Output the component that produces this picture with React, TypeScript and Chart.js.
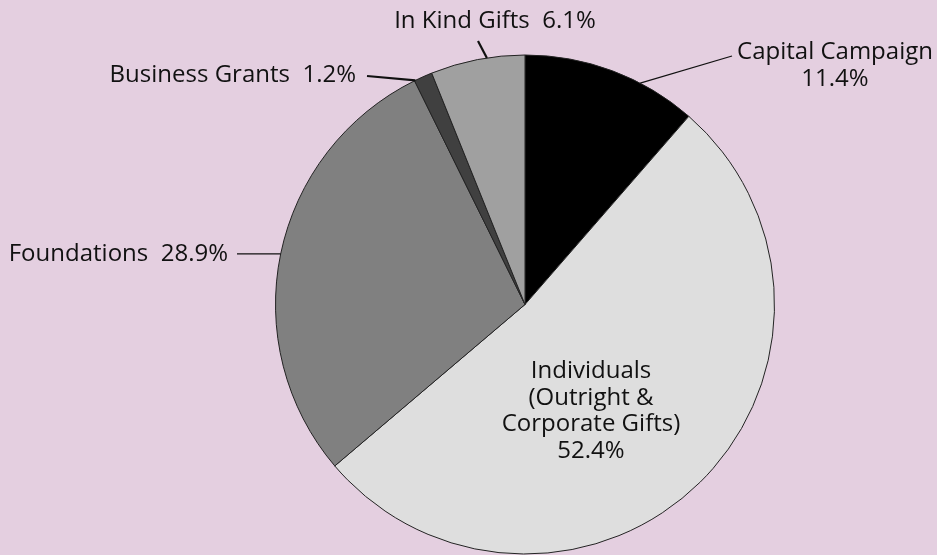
import React, { useEffect, useRef } from "react";
import { Chart, registerables } from "chart.js";

Chart.register(...registerables);

const categories = [
  "Capital Campaign",
  "Individuals (Outright & Corporate Gifts)",
  "Foundations",
  "Business Grants",
  "In Kind Gifts",
];
const values = [11.4, 52.4, 28.9, 1.2, 6.1];
const colors = ["#000000", "#dedede", "#808080", "#404040", "#a0a0a0"];
const valueLabels = ["11.4%", "52.4%", "28.9%", "1.2%", "6.1%"];

const FONT = "24px 'Open Sans', sans-serif";
const BG = "#e4cfe0";

const labelPlugin = {
  id: "pieLabels",
  afterDatasetsDraw(chart: any) {
    const ctx = chart.ctx as CanvasRenderingContext2D;
    const arcs = chart.getDatasetMeta(0).data;
    const pt = (i: number, frac: number, extra = 0) => {
      const a = arcs[i];
      const ang = a.startAngle + (a.endAngle - a.startAngle) * frac;
      const r = a.outerRadius + extra;
      return { x: a.x + Math.cos(ang) * r, y: a.y + Math.sin(ang) * r };
    };
    ctx.save();
    ctx.fillStyle = "#111";
    ctx.strokeStyle = "#111";
    ctx.font = FONT;
    ctx.textBaseline = "middle";

    const line = (x1: number, y1: number, x2: number, y2: number, w: number) => {
      ctx.lineWidth = w;
      ctx.beginPath();
      ctx.moveTo(x1, y1);
      ctx.lineTo(x2, y2);
      ctx.stroke();
    };

    // Capital Campaign
    const c0 = pt(0, 0.67);
    line(c0.x, c0.y, 732, 56, 1.3);
    ctx.textAlign = "center";
    ctx.fillText(categories[0], 835, 52);
    ctx.fillText(valueLabels[0], 835, 79);

    // Individuals (inside)
    ctx.textAlign = "center";
    const lines = ["Individuals", "(Outright &", "Corporate Gifts)", valueLabels[1]];
    lines.forEach((t, k) => ctx.fillText(t, 591, 371 + k * 26.7));

    // Foundations
    const f = pt(2, 0.5);
    line(237, f.y, f.x, f.y, 1.3);
    ctx.textAlign = "right";
    ctx.fillText(categories[2] + "  " + valueLabels[2], 228, f.y);

    // Business Grants
    const b = pt(3, 0.05);
    line(367, 76, b.x, b.y, 2.2);
    ctx.textAlign = "right";
    ctx.fillText(categories[3] + "  " + valueLabels[3], 356, 75);

    // In Kind Gifts
    const k = pt(4, 0.6);
    line(478, 41, k.x, k.y, 2.2);
    ctx.textAlign = "center";
    ctx.fillText(categories[4] + "  " + valueLabels[4], 495, 21);

    ctx.restore();
  },
};

export default function App() {
  const ref = useRef<HTMLCanvasElement>(null);
  useEffect(() => {
    const chart = new Chart(ref.current!, {
      type: "pie",
      data: {
        labels: categories,
        datasets: [
          {
            data: values,
            backgroundColor: colors,
            borderColor: "#222",
            borderWidth: 1,
          },
        ],
      },
      options: {
        animation: false,
        responsive: false,
        events: [],
        layout: { padding: { left: 275, right: 162, top: 54, bottom: 0 } },
        plugins: {
          legend: { display: false },
          tooltip: { enabled: false },
        },
      },
      plugins: [labelPlugin],
    });
    return () => chart.destroy();
  }, []);
  return (
    <div
      style={{
        position: "fixed",
        left: 0,
        top: 0,
        width: 937,
        height: 555,
        background: BG,
      }}
    >
      <canvas ref={ref} width={937} height={555} />
    </div>
  );
}
